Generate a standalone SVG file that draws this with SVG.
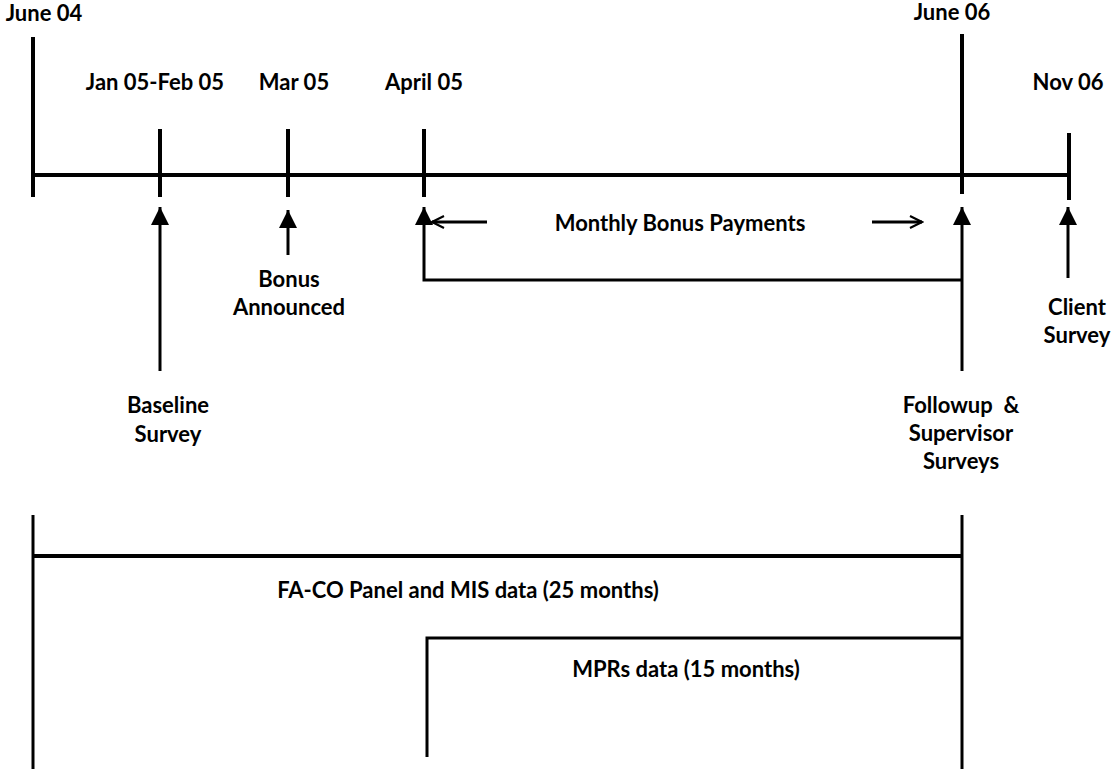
<svg xmlns="http://www.w3.org/2000/svg" width="1111" height="769" viewBox="0 0 1111 769">
<defs>
<marker id="tri" viewBox="0 0 10 10" refX="10" refY="5" markerWidth="6" markerHeight="6" markerUnits="strokeWidth" orient="auto">
<path d="M0,0 L10,5 L0,10 Z" fill="#000"/>
</marker>
<marker id="open" viewBox="0 0 10 10" refX="9" refY="5" markerWidth="5" markerHeight="5" markerUnits="strokeWidth" orient="auto">
<path d="M1,1 L9,5 L1,9" fill="none" stroke="#000" stroke-width="1.4"/>
</marker>
<style>
text{font-family:Lato,"Liberation Sans",sans-serif;font-weight:bold;font-size:22px;fill:#000;text-anchor:middle}
.tl{stroke:#000;stroke-width:4;fill:none}
.ln{stroke:#000;stroke-width:3;fill:none}
.ar{stroke:#000;stroke-width:3;fill:none;marker-end:url(#tri)}
.oa{stroke:#000;stroke-width:3;fill:none;marker-end:url(#open)}
</style>
</defs>
<rect width="1111" height="769" fill="#fff"/>
<g id="timeline">
<line class="tl" x1="33" y1="175" x2="1069" y2="175"/>
<line class="tl" x1="33" y1="37" x2="33" y2="197"/>
<line class="tl" x1="160" y1="129" x2="160" y2="197"/>
<line class="tl" x1="288" y1="129" x2="288" y2="197"/>
<line class="tl" x1="424" y1="129" x2="424" y2="197"/>
<line class="tl" x1="962" y1="34" x2="962" y2="194"/>
<line class="tl" x1="1069" y1="133" x2="1069" y2="200"/>
</g>
<g id="dates">
<text x="44" y="21">June 04</text>
<text x="155" y="90">Jan 05-Feb 05</text>
<text x="294" y="90">Mar 05</text>
<text x="424" y="90">April 05</text>
<text x="952" y="20">June 06</text>
<text x="1068" y="90">Nov 06</text>
</g>
<g id="connectors">
<line class="ar" x1="160" y1="371" x2="160" y2="207"/>
<line class="ar" x1="288" y1="255" x2="288" y2="210"/>
<polyline class="ar" points="962,280 424,280 424,207"/>
<line class="ar" x1="962" y1="371" x2="962" y2="207"/>
<line class="ar" x1="1068" y1="278" x2="1068" y2="207"/>
<line class="oa" x1="487" y1="222" x2="432" y2="222"/>
<line class="oa" x1="872" y1="222" x2="922" y2="222"/>
</g>
<g id="labels">
<text x="680" y="231">Monthly Bonus Payments</text>
<text x="289" y="287">Bonus</text>
<text x="289" y="315">Announced</text>
<text x="168" y="413">Baseline</text>
<text x="168" y="442">Survey</text>
<text x="1077" y="315">Client</text>
<text x="1077" y="343">Survey</text>
<text x="961" y="413" xml:space="preserve">Followup  &amp;</text>
<text x="961" y="441">Supervisor</text>
<text x="961" y="469">Surveys</text>
</g>
<g id="data-periods">
<line class="ln" x1="33" y1="515" x2="33" y2="769"/>
<line class="ln" x1="962" y1="515" x2="962" y2="769"/>
<line class="tl" x1="33" y1="556" x2="962" y2="556"/>
<polyline class="ln" points="427,757 427,638 962,638"/>
<text x="468" y="598">FA-CO Panel and MIS data (25 months)</text>
<text x="686" y="677">MPRs data (15 months)</text>
</g>
</svg>
